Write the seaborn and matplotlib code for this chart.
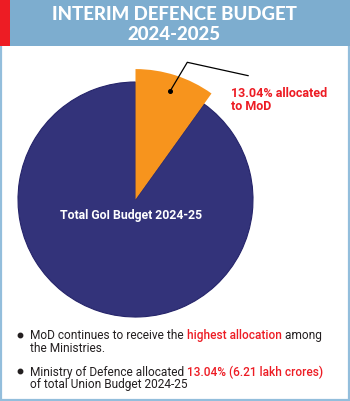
import matplotlib
matplotlib.use("Agg")
import matplotlib.pyplot as plt
import seaborn as sns
from matplotlib.patches import Rectangle

sns.set_theme(style="white")
plt.rcParams['font.family'] = ['Roboto', 'DejaVu Sans']

# ---- data ----
title_lines = ["INTERIM DEFENCE BUDGET", "2024-2025"]
slice_names = ["MoD", "Rest of GoI Budget"]
slice_shares = [9.9, 90.1]          # shares as drawn in the picture
slice_colors = ["#F7941D", "#33337A"]
mod_label = ["13.04% allocated", "to MoD"]
total_label = "Total GoI Budget 2024-25"
bullets = [
    [[("MoD continues to receive the ", "k"), ("highest allocation", "r"), (" among", "k")],
     [("the Ministries.", "k")]],
    [[("Ministry of Defence allocated ", "k"), ("13.04% (6.21 lakh crores)", "r")],
     [("of total Union Budget 2024-25", "k")]],
]

W, H = 350, 402
RED = "#ED1C24"
INK = "#231F20"
fig = plt.figure(figsize=(W / 100, H / 100), dpi=100)
ax = fig.add_axes([0, 0, 1, 1])
ax.set_xlim(0, W)
ax.set_ylim(0, H)
ax.axis("off")

def Y(py):
    return H - py

# frame and header
ax.add_patch(Rectangle((0, 0), W, H, facecolor="white", edgecolor="none", zorder=0))
ax.add_patch(Rectangle((0.8, 1.2), W - 1.8, H - 2, facecolor="none", edgecolor="#93BEDC", lw=1.6, zorder=1))
ax.add_patch(Rectangle((0, Y(47)), W, 47, facecolor="#7DADCF", edgecolor="none", zorder=2))
ax.add_patch(Rectangle((0, Y(47)), 9.5, 47, facecolor="#ED1C24", edgecolor="none", zorder=3))

ax.text(174, Y(14.5), title_lines[0], color="white", fontsize=13.4, fontweight="black",
        family=["Lato", "DejaVu Sans"], ha="center", va="center", zorder=4)
ax.text(174, Y(34.5), title_lines[1], color="white", fontsize=13.4, fontweight="black",
        family=["Lato", "DejaVu Sans"], ha="center", va="center", zorder=4)

# pie
cx, cy, r = 135.5, Y(200.5), 117.5
wedges, _ = ax.pie(slice_shares, colors=slice_colors, startangle=90, counterclock=False,
                   center=(cx, cy), radius=r, frame=True,
                   wedgeprops=dict(linewidth=0))
wedges[0].set_radius(r * 1.11)
wedges[0].set_zorder(2)
wedges[1].set_edgecolor("#25246A")
wedges[1].set_linewidth(0.8)
ax.set_xlim(0, W)
ax.set_ylim(0, H)
ax.set_aspect("auto")
ax.axis("off")

ax.text(131, Y(219), total_label, color="white", fontsize=8.8, fontweight="bold",
        ha="center", va="baseline", zorder=5)

# leader line
ax.plot([170, 187.3, 248.3], [Y(92.3), Y(63.3), Y(76.7)], color="black", lw=0.9, zorder=6)
ax.plot([170], [Y(92.3)], "o", color="black", ms=2.6, zorder=6)
ax.text(231, Y(96.7), mod_label[0], color=RED, fontsize=9.0, fontweight="bold", ha="left", va="baseline")
ax.text(231, Y(110.5), mod_label[1], color=RED, fontsize=9.0, fontweight="bold", ha="left", va="baseline")

# bullets
fig.canvas.draw()
renderer = fig.canvas.get_renderer()
baselines = [[339.3, 352.5], [375.8, 388.5]]
dots = [335.7, 372.3]
for b, lines in enumerate(bullets):
    ax.plot([20], [Y(dots[b])], "o", color=INK, ms=3.2)
    for li, segs in enumerate(lines):
        x = 30.0
        for txt, c in segs:
            t = ax.text(x, Y(baselines[b][li]), txt, color=(RED if c == "r" else INK),
                        fontsize=8.6, ha="left", va="baseline",
                        fontweight=("medium" if c == "r" else "normal"))
            bb = t.get_window_extent(renderer)
            x += bb.width

fig.savefig("out.png", dpi=100)
